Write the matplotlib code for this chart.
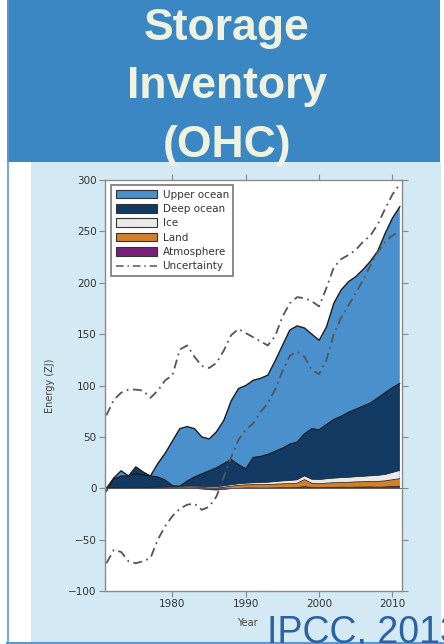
import numpy as np
import matplotlib
matplotlib.use("Agg")
import matplotlib.pyplot as plt
from matplotlib.patches import Patch, Rectangle
from matplotlib.lines import Line2D

# ---------------- data (ZJ, relative to 1971) ----------------
years = list(range(1971, 2012))

upper_ocean = [3, 1, 5, 0, -7, -3, 0, 13, 26, 43.5, 56, 53, 47, 36, 31, 35, 42, 57, 74, 81,
               75, 76, 77, 88, 100, 111, 113, 103, 92, 87, 95, 113, 123, 127, 129, 133, 138,
               143, 155, 165, 172]
deep_ocean = [-3, 8.8, 11.6, 11.5, 20.3, 15.2, 11.0, 9.9, 6.6, 0.8, 0.1, 5, 9, 12.2, 15.6,
              18.6, 21.7, 24.6, 18.7, 14.1, 24.7, 25.5, 27.2, 29.5, 31.9, 35.5, 36.8, 41,
              49.3, 48.6, 52.8, 57.2, 59.7, 63.4, 65.8, 68.4, 70.9, 75.5, 79.6, 82.7, 84.7]
ice = [0, 0.1, 0.2, 0.2, 0.3, 0.3, 0.4, 0.4, 0.5, 0.6, 0.7, 0.8, 0.9, 1.0, 1.1, 1.2, 1.3,
       1.4, 1.5, 1.6, 1.8, 2.0, 2.2, 2.5, 2.8, 3.0, 3.3, 3.6, 3.8, 4.0, 4.2, 4.4, 4.6, 4.8,
       5.0, 5.2, 5.4, 5.8, 6.2, 7.0, 8.0]
land = [0, 0.1, 0.2, 0.3, 0.4, 0.5, 0.6, 0.7, 0.8, 0.9, 1.0, 1.2, 1.4, 1.6, 1.8, 2.0, 2.2,
        2.5, 2.8, 3.0, 3.2, 3.3, 3.4, 3.6, 3.8, 4.0, 4.2, 6.8, 4.0, 3.8, 4.2, 4.4, 4.6, 4.8,
        5.0, 5.2, 5.4, 5.6, 5.9, 6.5, 7.3]
atmosphere = [0, 0, 0, 0, 0, 0, 0, 0, 0.1, 0.2, 0.2, 0, -0.3, -0.8, -1.5, -1.8, -1.2, -0.5,
              0, 0.3, 0.3, 0.2, 0.2, 0.4, 0.5, 0.5, 0.7, 1.6, 0.9, 0.6, 0.8, 1.0, 1.1, 1.0,
              1.2, 1.2, 1.3, 1.1, 1.3, 1.8, 2.0]
uncert_upper = [71, 86, 93, 96, 96, 95, 88, 95, 105, 110, 135, 139, 128, 119, 117, 122, 134,
                149, 155, 151, 147, 143, 139, 148, 167, 180, 186, 185, 182, 177, 195, 215,
                223, 227, 232, 240, 246, 257, 272, 286, 296]
uncert_lower = [-73, -60, -62, -71, -73, -71, -68, -50, -37, -27, -20, -16, -15, -21, -18, -8,
                11, 30, 47, 57, 63, 74, 83, 96, 114, 129, 133, 128, 115, 111, 125, 150, 166,
                178, 190, 203, 217, 230, 240, 246, 250]

labels = ["Upper ocean", "Deep ocean", "Ice", "Land", "Atmosphere", "Uncertainty"]
xticks = [1980, 1990, 2000, 2010]
yticks = [-100, -50, 0, 50, 100, 150, 200, 250, 300]

c_upper = "#4a90cd"
c_deep = "#133a63"
c_ice = "#e9e9e9"
c_land = "#d0802a"
c_atm = "#7a1f78"

W, H = 444, 644
fig = plt.figure(figsize=(W / 100, H / 100), dpi=100)
fig.patch.set_facecolor("white")

# background decoration in pixel coords
bg = fig.add_axes([0, 0, 1, 1], zorder=0)
bg.set_xlim(0, W)
bg.set_ylim(H, 0)
bg.axis("off")
bg.add_patch(Rectangle((31, 162), 410, 482, facecolor="#d3e9f4", edgecolor="none"))
bg.add_patch(Rectangle((7, 0), 433, 162, facecolor="#3a87c4", edgecolor="none"))

# main chart
ax = fig.add_axes([105 / W, 1 - 591 / H, 297 / W, 411 / H], zorder=2)
ax.set_facecolor("white")
x = np.array(years, dtype=float)
s_atm = np.array(atmosphere)
s_land = s_atm + np.array(land)
s_ice = s_land + np.array(ice)
s_deep = s_ice + np.array(deep_ocean)
s_total = s_deep + np.array(upper_ocean)

for top, col, lw in [(s_total, c_upper, 1.0), (s_deep, c_deep, 0.8), (s_ice, c_ice, 0.5),
                     (s_land, c_land, 0.5), (s_atm, c_atm, 0.4)]:
    ax.fill_between(x, 0, top, facecolor=col, edgecolor="none", linewidth=0)
    ax.plot(x, top, color="#1c1c1c", lw=lw)

ax.axhline(0, color="#555555", lw=0.6)
dash = (0, (5, 2.5, 1, 2.5))
ax.plot(x, uncert_upper, color="#555555", lw=1.3, linestyle=dash)
ax.plot(x, uncert_lower, color="#555555", lw=1.3, linestyle=dash)

ax.set_xlim(1970.8, 2011.3)
ax.set_ylim(-100, 300)
ax.set_xticks(xticks)
ax.set_yticks(yticks)
for sp in ax.spines.values():
    sp.set_color("#8a8a8a")
    sp.set_linewidth(1.0)
ax.tick_params(direction="out", length=4, width=0.8, color="#8a8a8a", labelsize=7.5,
               labelcolor="#333333", top=True, right=True, pad=2)
ax.set_ylabel("Energy (ZJ)", fontsize=7, color="#444444")
ax.yaxis.set_label_coords(-0.168, 0.5)
ax.set_xlabel("Year", fontsize=7, color="#444444")
ax.xaxis.set_label_coords(0.478, -0.066)

handles = [Patch(facecolor=c, edgecolor="#333333", linewidth=0.8)
           for c in [c_upper, c_deep, c_ice, c_land, c_atm]]
handles.append(Line2D([0], [0], color="#555555", lw=1.1, linestyle=dash))
leg = ax.legend(handles, labels, loc="upper left", bbox_to_anchor=(0.02, 0.988),
                borderaxespad=0, fontsize=7.5, handlelength=4.0, handleheight=0.9,
                labelspacing=0.42, handletextpad=0.5, borderpad=0.45, fancybox=False,
                framealpha=1, edgecolor="#777777")
leg.get_frame().set_linewidth(1.2)
for t in leg.get_texts():
    t.set_color("#333333")

# overlay: titles, citation, frame lines
ov = fig.add_axes([0, 0, 1, 1], zorder=5)
ov.set_xlim(0, W)
ov.set_ylim(H, 0)
ov.axis("off")
ov.patch.set_alpha(0)
tcol = "#eef2de"
for txt, yb in [("Storage", 40), ("Inventory", 98), ("(OHC)", 157)]:
    ov.text(227, yb, txt, ha="center", va="baseline", fontsize=32, fontweight="bold",
            color=tcol, family="Liberation Sans")
ov.text(267, 643, "IPCC, 2013", ha="left", va="baseline", fontsize=27,
        color="#2f60a0", family="Liberation Sans", clip_on=False)
ov.plot([7.5, 7.5], [0, 643], color="#5b98cf", lw=1.2)
ov.plot([7, 444], [643, 643], color="#5b98cf", lw=1.5)

fig.savefig("out.png", dpi=100)
